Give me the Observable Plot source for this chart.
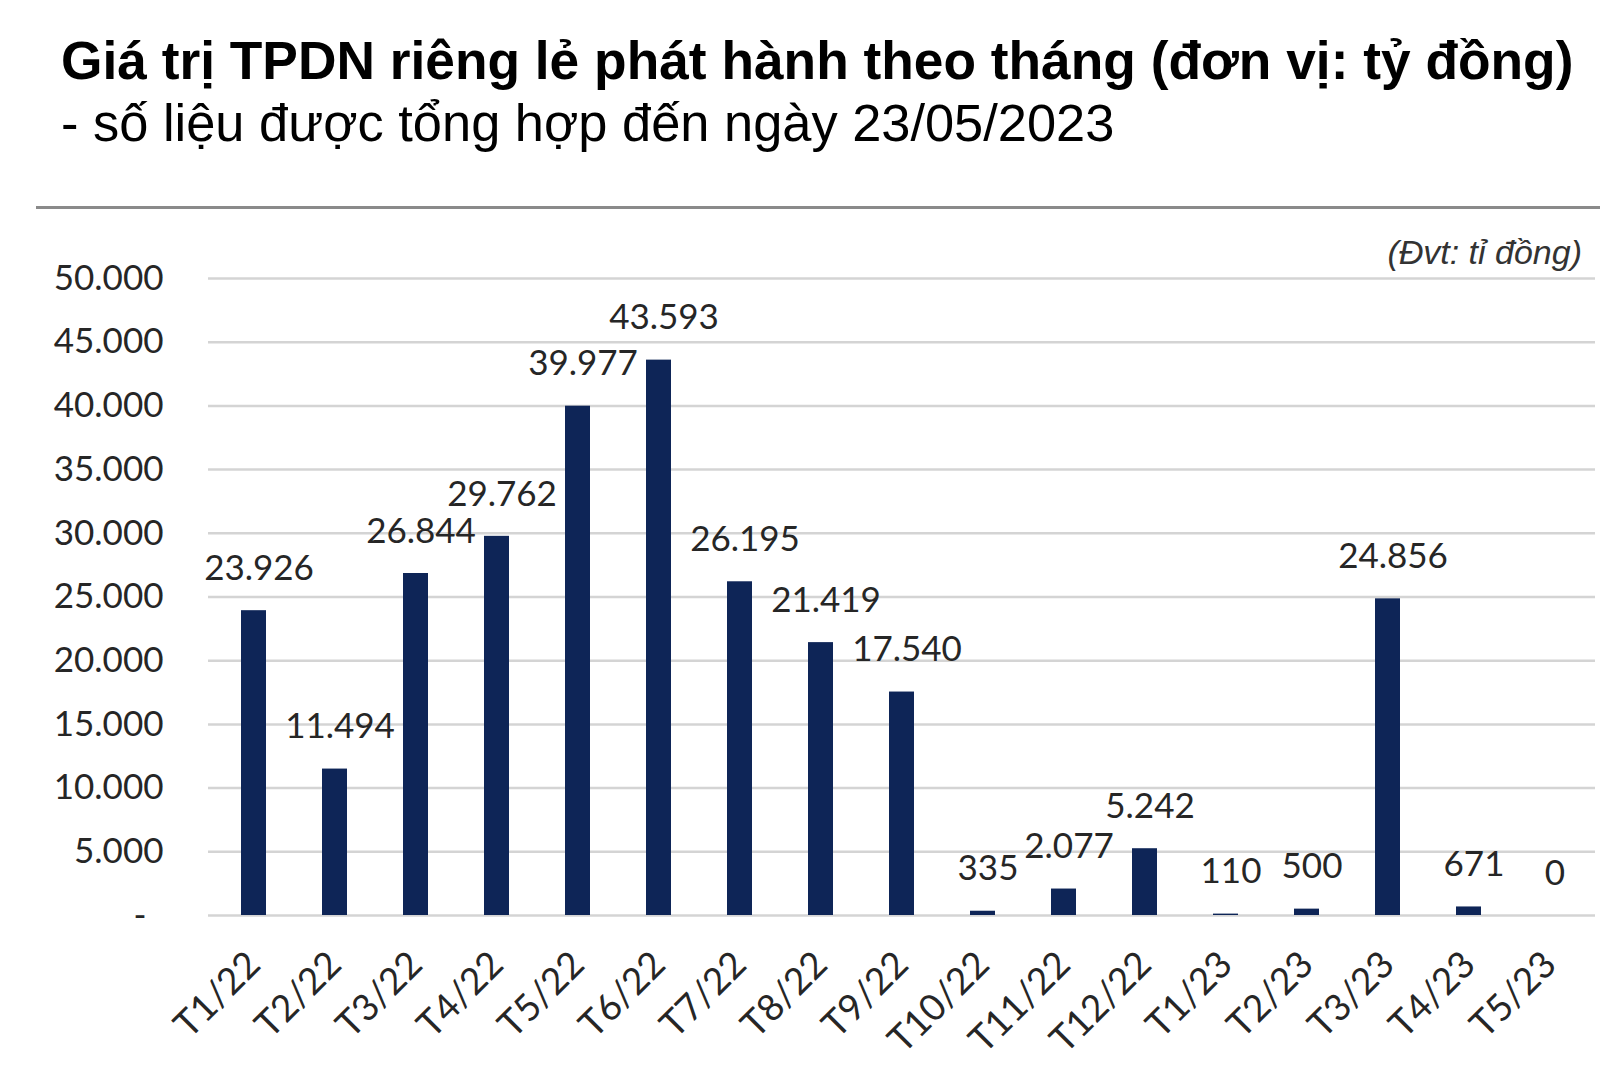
<!DOCTYPE html>
<html>
<head>
<meta charset="utf-8">
<script src="https://cdn.jsdelivr.net/npm/d3@7"></script>
<script src="https://cdn.jsdelivr.net/npm/@observablehq/plot@0.6"></script>
<style>
  html, body { margin: 0; padding: 0; background: #fff; }
  #wrap { position: relative; width: 1600px; height: 1068px; overflow: hidden; background: #fff; }
  #title { position: absolute; left: 61px; top: 34px; font: bold 53.3px "Liberation Sans", Arial, sans-serif; line-height: 53px; color: #000; white-space: nowrap; }
  #subtitle { position: absolute; left: 61px; top: 97px; font: 52.4px "Liberation Sans", Arial, sans-serif; line-height: 52px; color: #000; white-space: nowrap; }
  #rule { position: absolute; left: 36px; top: 206px; width: 1564px; height: 3px; background: #8a8a8a; }
  #chart { position: absolute; left: 0; top: 238px; }
  #note { position: absolute; right: 18px; top: 235px; font: italic 34px "Liberation Sans", Arial, sans-serif; line-height: 34px; color: #333; white-space: nowrap; z-index: 2; }
</style>
</head>
<body>
<div id="wrap">
  <div id="title">Giá trị TPDN riêng lẻ phát hành theo tháng (đơn vị: tỷ đồng)</div>
  <div id="subtitle">- số liệu được tổng hợp đến ngày 23/05/2023</div>
  <div id="rule"></div>
  <div id="chart"></div>
  <div id="note">(Đvt: tỉ đồng)</div>
</div>
<script>
const months = ["T1/22","T2/22","T3/22","T4/22","T5/22","T6/22","T7/22","T8/22","T9/22","T10/22","T11/22","T12/22","T1/23","T2/23","T3/23","T4/23","T5/23"];
const values = [23926, 11494, 26844, 29762, 39977, 43593, 26195, 21419, 17540, 335, 2077, 5242, 110, 500, 24856, 671, 0];
const yTicks = [0, 5000, 10000, 15000, 20000, 25000, 30000, 35000, 40000, 45000, 50000];

const data = months.map((m, i) => ({month: m, value: values[i]}));
const fmt = d3.formatLocale({decimal: ",", thousands: ".", grouping: [3], currency: ["", ""]}).format(",d");

const chart = Plot.plot({
  width: 1600,
  height: 830,
  marginLeft: 208,
  marginRight: 5,
  marginTop: 40,
  marginBottom: 153,
  style: {fontFamily: "Lato, 'Open Sans', sans-serif", fontSize: "35px", color: "#333", background: "transparent"},
  x: {domain: months, paddingInner: 0.694, paddingOuter: 0.347, label: null},
  y: {domain: [0, 50000], label: null},
  marks: [
    Plot.ruleY(yTicks, {stroke: "#d4d4d4", strokeWidth: 2.5}),
    Plot.barY(data, {x: "month", y: "value", fill: "#0e2557"}),
    Plot.text(data, {x: "month", y: "value", text: d => fmt(d.value), dy: -42, dx: 5, lineAnchor: "middle", fill: "#262626", fontSize: 35}),
    Plot.axisY(yTicks.filter(d => d > 0), {tickSize: 0, tickPadding: 45, tickFormat: fmt, fontSize: 35, fill: "#262626", label: null}),
    Plot.axisY([0], {tickSize: 0, tickPadding: 62, tickFormat: () => "-", fontSize: 35, fill: "#262626", label: null}),
    Plot.axisX({tickSize: 0, tickRotate: -45, tickPadding: 43, dx: 0, fontSize: 37, fill: "#262626", label: null})
  ]
});
document.getElementById("chart").appendChild(chart);
</script>
</body>
</html>
